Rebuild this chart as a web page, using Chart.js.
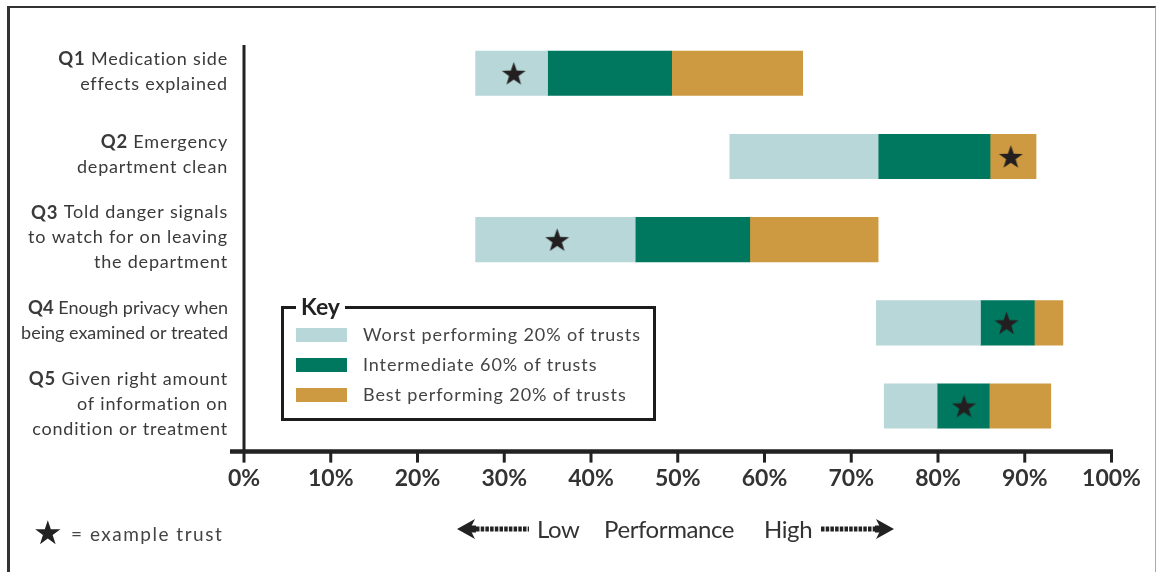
<!DOCTYPE html>
<html>
<head>
<meta charset="utf-8">
<script src="https://cdn.jsdelivr.net/npm/chart.js@4.4.1/dist/chart.umd.min.js"></script>
<style>
  html, body { margin: 0; padding: 0; background: #fff; }
  body { width: 1156px; height: 572px; position: relative; overflow: hidden; font-family: Lato, 'Open Sans', sans-serif; color: #3a3a3a; }
  #frame { position: absolute; left: 7px; top: 6px; width: 1145px; height: 600px; border-top: 2px solid #333; border-left: 3px solid #333; border-right: 1px solid #aaa; }
  #chart { position: absolute; left: 0; top: 0; }
  #key { position: absolute; left: 281px; top: 306px; width: 375px; height: 115px; box-sizing: border-box; border: 3px solid #1c1c1c; background: #fff; }
  #key .title { position: absolute; left: 12px; top: -16px; padding: 0 5px; background: #fff; font-weight: 700; font-size: 23px; color: #222; line-height: 26px; }
  #key .row { position: absolute; left: 12px; height: 14px; }
  #key .swatch { position: absolute; left: 0; top: 0; width: 51px; height: 14px; }
  #key .label { position: absolute; left: 67px; top: -5px; white-space: nowrap; font-size: 18px; line-height: 22px; color: #444; letter-spacing: 0.9px; }
  #starNote { position: absolute; left: 33px; top: 511px; font-size: 19px; color: #444; white-space: nowrap; letter-spacing: 1.5px; }
  #starNote .star { font-size: 33px; color: #222; vertical-align: -3px; margin-right: 8px; letter-spacing: 0; }
  #perf { position: absolute; left: 455px; top: 512px; height: 34px; white-space: nowrap; font-size: 24px; color: #333; letter-spacing: -0.4px; }
  #perf span { position: absolute; top: 0; line-height: 34px; }
  #perf svg { position: absolute; top: 6px; }
</style>
</head>
<body>
<div id="frame"></div>
<canvas id="chart" width="1156" height="572"></canvas>
<div id="key"><div class="title">Key</div></div>
<div id="starNote"><span class="star">★</span>= example trust</div>
<div id="perf">
  <svg width="74" height="22" style="left:2px"><polygon points="0,11 18,1 13,11 18,21" fill="#222"/><rect x="10" y="7.5" width="9" height="7" fill="#222"/><line x1="19" y1="11" x2="72" y2="11" stroke="#222" stroke-width="5" stroke-dasharray="3.5,1.2"/></svg>
  <span style="left:82px">Low</span>
  <span style="left:149px">Performance</span>
  <span style="left:309px">High</span>
  <svg width="74" height="22" style="left:366px"><line x1="0" y1="11" x2="55" y2="11" stroke="#222" stroke-width="5" stroke-dasharray="3.5,1.2"/><rect x="54" y="7.5" width="9" height="7" fill="#222"/><polygon points="73,11 55,1 60,11 55,21" fill="#222"/></svg>
</div>
<script>
const questions = ['Q1', 'Q2', 'Q3', 'Q4', 'Q5'];
const questionLines = [
  ['Medication side', 'effects explained'],
  ['Emergency', 'department clean'],
  ['Told danger signals', 'to watch for on leaving', 'the department'],
  ['Enough privacy when', 'being examined or treated'],
  ['Given right amount', 'of information on', 'condition or treatment']
];

// percentile boundaries (% score)
const lowest = [26.7, 56.0, 26.7, 72.9, 73.8];
const p20 = [35.0, 73.1, 45.1, 84.9, 79.9];
const p80 = [49.3, 86.0, 58.3, 91.1, 85.9];
const highest = [64.4, 91.3, 73.1, 94.4, 93.0];
const exampleTrust = [31.1, 88.4, 36.1, 87.9, 83.0];

const seriesLabels = ['Worst performing 20% of trusts', 'Intermediate 60% of trusts', 'Best performing 20% of trusts'];
const seriesColors = ['#b7d7d8', '#00775f', '#cd9a42'];
const xTicks = [0, 10, 20, 30, 40, 50, 60, 70, 80, 90, 100];

const pairs = (a, b) => a.map((v, i) => [v, b[i]]);

const makeStar = (size, color) => {
  const c = document.createElement('canvas');
  c.width = size;
  c.height = size;
  const g = c.getContext('2d');
  const cx = size / 2, cy = size / 2 + size * 0.05, R = size / 2, r = R * 0.4;
  g.beginPath();
  for (let i = 0; i < 10; i += 1) {
    const a = -Math.PI / 2 + i * Math.PI / 5;
    const rad = i % 2 === 0 ? R : r;
    g.lineTo(cx + rad * Math.cos(a), cy + rad * Math.sin(a));
  }
  g.closePath();
  g.fillStyle = color;
  g.fill();
  return c;
};

// key box built from the series arrays
const key = document.getElementById('key');
seriesLabels.forEach((label, i) => {
  const row = document.createElement('div');
  row.className = 'row';
  row.style.top = (19 + i * 30) + 'px';
  row.innerHTML = `<div class="swatch" style="background:${seriesColors[i]}"></div><div class="label">${label}</div>`;
  key.appendChild(row);
});

const axesAndLabels = {
  id: 'axesAndLabels',
  afterDraw(chart) {
    const { ctx, chartArea } = chart;
    const xs = chart.scales.x;
    const ys = chart.scales.y;
    const axisY = chartArea.bottom + 4;
    ctx.save();
    ctx.strokeStyle = '#222';
    ctx.lineWidth = 3;
    ctx.beginPath();
    ctx.moveTo(chartArea.left, 45);
    ctx.lineTo(chartArea.left, axisY);
    ctx.stroke();
    ctx.lineWidth = 4.5;
    ctx.beginPath();
    ctx.moveTo(230, axisY);
    ctx.lineTo(chartArea.right + 1.5, axisY);
    ctx.stroke();
    ctx.lineWidth = 3;
    xTicks.forEach((v) => {
      const px = xs.getPixelForValue(v);
      ctx.beginPath();
      ctx.moveTo(px, axisY);
      ctx.lineTo(px, axisY + 11);
      ctx.stroke();
    });

    ctx.textAlign = 'right';
    ctx.textBaseline = 'middle';
    ctx.fillStyle = '#3a3a3a';
    const right = 228;
    const lh = 25;
    questions.forEach((q, i) => {
      const lines = questionLines[i];
      const cy = ys.getPixelForValue(i) - 2;
      const top = cy - (lines.length - 1) * lh / 2;
      ctx.letterSpacing = q === 'Q4' ? '0px' : '0.8px';
      lines.forEach((line, j) => {
        const ly = top + j * lh;
        ctx.font = '18px Lato, "Open Sans", sans-serif';
        ctx.fillText(line, right, ly);
        if (j === 0) {
          const w = ctx.measureText(line).width + ctx.measureText(' ').width;
          ctx.font = 'bold 18.5px Lato, "Open Sans", sans-serif';
          ctx.fillText(q, right - w, ly);
        }
      });
    });
    ctx.restore();
  }
};

new Chart(document.getElementById('chart'), {
  type: 'bar',
  data: {
    labels: questions,
    datasets: [
      {
        type: 'line',
        label: 'Example trust',
        data: exampleTrust,
        showLine: false,
        pointStyle: makeStar(25, '#231f20'),
        order: -1
      },
      { label: seriesLabels[0], data: pairs(lowest, p20), backgroundColor: seriesColors[0] },
      { label: seriesLabels[1], data: pairs(p20, p80), backgroundColor: seriesColors[1] },
      { label: seriesLabels[2], data: pairs(p80, highest), backgroundColor: seriesColors[2] }
    ]
  },
  options: {
    indexAxis: 'y',
    responsive: false,
    animation: false,
    events: [],
    layout: { padding: { left: 244, right: 44.5, top: 31.7, bottom: 0 } },
    datasets: {
      bar: { grouped: false, barThickness: 44.5, borderWidth: 0, borderSkipped: false }
    },
    plugins: {
      legend: { display: false },
      tooltip: { enabled: false }
    },
    scales: {
      x: {
        type: 'linear',
        min: 0,
        max: 100,
        afterFit: (scale) => { scale.height = 124.4; },
        afterBuildTicks: (scale) => { scale.ticks = xTicks.map((v) => ({ value: v })); },
        grid: { display: false },
        border: { display: false },
        ticks: {
          padding: 9,
          color: '#333',
          font: { family: 'Lato, "Open Sans", sans-serif', size: 23, weight: 'bold' },
          callback: (v) => v + '%'
        }
      },
      y: {
        type: 'category',
        display: false
      }
    }
  },
  plugins: [axesAndLabels]
});
</script>
</body>
</html>
